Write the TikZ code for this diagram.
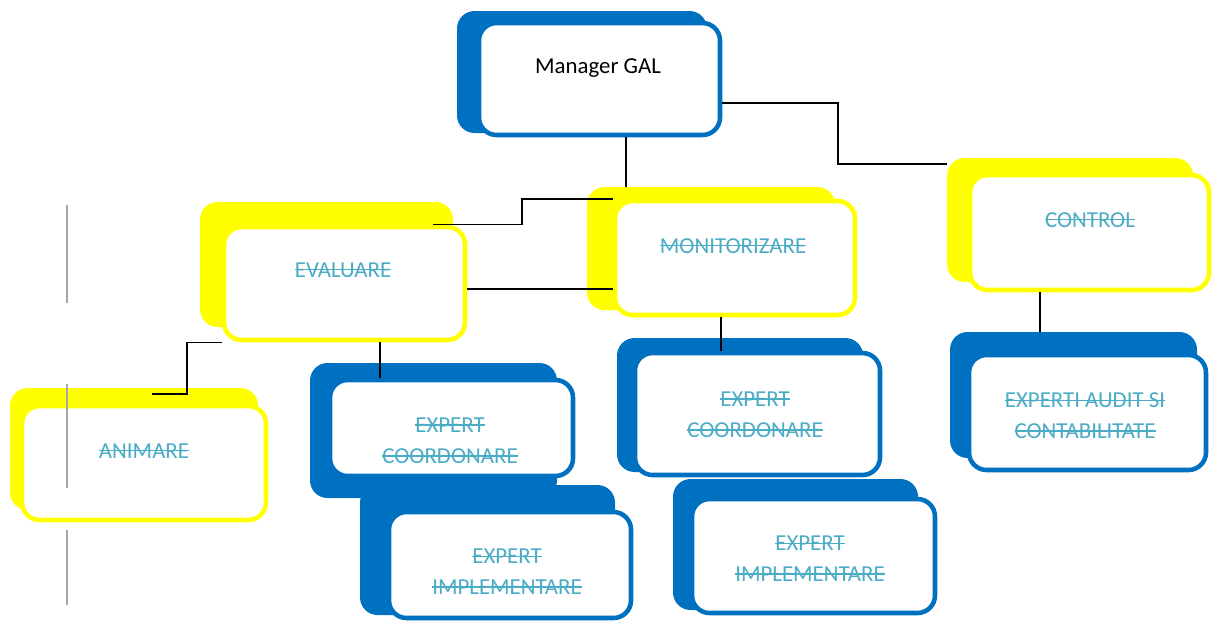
\documentclass[tikz,border=0pt]{standalone}
\usepackage{fontspec}
\setmainfont{Carlito}
\usepackage{xcolor}
\usetikzlibrary{fit}
\definecolor{galblue}{HTML}{0070C0}
\definecolor{galyellow}{HTML}{FFFF00}
\definecolor{galteal}{HTML}{4BACC6}
\definecolor{galgray}{HTML}{A6A6A6}
\newlength{\strkwd}
\newcommand{\strk}[1]{\settowidth{\strkwd}{#1}\rlap{#1}\rule[0.3em]{\strkwd}{0.9pt}}

\begin{document}
\begin{tikzpicture}[x=0.02cm, y=-0.02cm,
  shdB/.style={fill=galblue, inner sep=0pt, rounded corners=10pt},
  shdY/.style={fill=galyellow, inner sep=0pt, rounded corners=10pt},
  boxB/.style={draw=galblue, fill=white, line width=2.6pt, inner sep=0pt, rounded corners=10pt},
  boxY/.style={draw=galyellow, fill=white, line width=2.6pt, inner sep=0pt, rounded corners=10pt},
  lbl/.style={text=galteal, align=center, font=\fontsize{13}{17.5}\selectfont},
  link/.style={draw=black, line width=0.8pt},
  guide/.style={draw=galgray, line width=1.7pt}]
\useasboundingbox (0,0) rectangle (1212,623);

% manager
\node[shdB, fit={(457,11) (707,133)}] (mgrS) {};
\node[boxB, fit={(479,23) (720,135)}] (mgr) {};
\node[lbl, text=black] (mgrT) at (598,68) {Manager GAL};

% second level
\node[shdY, fit={(587,187) (835,310)}] (moniS) {};
\node[boxY, fit={(615,201) (855,315)}] (moni) {};
\node[lbl] (moniT) at (733,246) {\strk{MONITORIZARE}};

\node[shdY, fit={(200,202) (453,327)}] (evalS) {};
\node[boxY, fit={(224,227) (465,340)}] (eval) {};
\node[lbl] (evalT) at (343,270) {\strk{EVALUARE}};

\node[shdY, fit={(947,158) (1193,282)}] (ctrlS) {};
\node[boxY, fit={(970,175) (1209,290)}] (ctrl) {};
\node[lbl] (ctrlT) at (1090,220) {\strk{CONTROL}};

% third level
\node[shdY, fit={(10,388) (258,510)}] (animS) {};
\node[boxY, fit={(22,406) (266,520)}] (anim) {};
\node[lbl] (animT) at (144,451) {\strk{ANIMARE}};

\node[shdB, fit={(310,363) (557,498)}] (coorLS) {};
\node[boxB, fit={(330,380) (573,476)}] (coorL) {};
\node[lbl] (coorLT) at (450,441) {\strk{EXPERT}\\\strk{COORDONARE}};

\node[shdB, fit={(360,485) (615,615)}] (implLS) {};
\node[boxB, fit={(389,512) (631,618)}] (implL) {};
\node[lbl] (implLT) at (507,572) {\strk{EXPERT}\\\strk{IMPLEMENTARE}};

\node[shdB, fit={(617,338) (863,472)}] (coorRS) {};
\node[boxB, fit={(635,353) (880,475)}] (coorR) {};
\node[lbl] (coorRT) at (755,415) {\strk{EXPERT}\\\strk{COORDONARE}};

\node[shdB, fit={(673,479) (918,610)}] (implRS) {};
\node[boxB, fit={(692,499) (935,613)}] (implR) {};
\node[lbl] (implRT) at (810,559) {\strk{EXPERT}\\\strk{IMPLEMENTARE}};

\node[shdB, fit={(950,332) (1197,458)}] (auditS) {};
\node[boxB, fit={(969,355) (1206,470)}] (audit) {};
\node[lbl] (auditT) at (1085,416) {\strk{EXPERTI AUDIT SI}\\\strk{CONTABILITATE}};

% connectors
\coordinate (animIn) at (152,394);
\draw[link] (mgr.south -| 626,0) -- (moniS.north -| 626,0);
\draw[link] (mgr.east |- 0,103) -| (838,164) -- (ctrlS.west |- 0,164);
\draw[link] (eval.north -| 433,0) -| (522,199) -- (moni.west |- 0,199);
\draw[link] (eval.east |- 0,289) -- (moni.west |- 0,289);
\draw[link] (eval.south west) -| (187,394) -- (animIn);
\draw[link] (eval.south -| 380,0) -- (coorL.north -| 380,0);
\draw[link] (moni.south -| 721,0) -- (coorR.north -| 721,0);
\draw[link] (ctrl.south -| 1040,0) -- (auditS.north -| 1040,0);

% gray marks on the left
\draw[guide] (67,205) -- (67,303);
\draw[guide] (67,384) -- (67,488);
\draw[guide] (67,530) -- (67,605);
\end{tikzpicture}
\end{document}
